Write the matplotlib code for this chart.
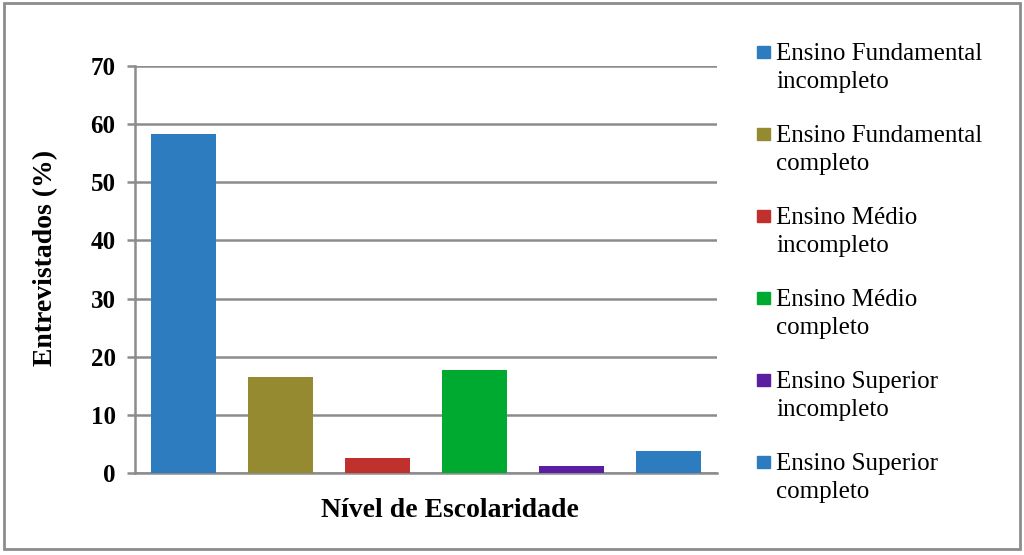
import matplotlib.pyplot as plt
from matplotlib.patches import Rectangle

# data
categories = ["Ensino Fundamental\nincompleto", "Ensino Fundamental\ncompleto",
              "Ensino Médio\nincompleto", "Ensino Médio\ncompleto",
              "Ensino Superior\nincompleto", "Ensino Superior\ncompleto"]
values = [58.3, 16.5, 2.6, 17.7, 1.2, 3.8]
colors = ["#2E7CC0", "#958A30", "#C0302C", "#00AA30", "#5A1EA0", "#2E7CC0"]
yticks = [0, 10, 20, 30, 40, 50, 60, 70]

plt.rcParams["font.family"] = ["Liberation Serif", "DejaVu Serif"]
W, H = 1024, 555
fig = plt.figure(figsize=(W / 100, H / 100), dpi=100)

def fx(px):
    return px / W

def fy(py):
    return 1 - py / H

ax = fig.add_axes([fx(135), fy(473), fx(717) - fx(135), fy(66) - fy(473)])
x = range(len(values))
ax.bar(x, values, width=0.67, color=colors, zorder=3)
ax.set_xlim(-0.5, 5.5)
ax.set_ylim(0, 70)
ax.set_yticks(yticks)
ax.set_yticklabels([str(t) for t in yticks], fontsize=18, fontweight="bold")
ax.set_xticks([])
ax.grid(axis="y", color="#8C8C8C", linewidth=1.8, zorder=0)
for s in ["top", "right"]:
    ax.spines[s].set_visible(False)
for s in ["left", "bottom"]:
    ax.spines[s].set_color("#8C8C8C")
    ax.spines[s].set_linewidth(1.8)
ax.tick_params(axis="y", direction="out", length=6, width=1.8, color="#8C8C8C", pad=8)
ax.set_xlabel("Nível de Escolaridade", fontsize=20, fontweight="bold")
ax.set_ylabel("Entrevistados (%)", fontsize=20, fontweight="bold")
ax.xaxis.set_label_coords(0.541, -0.061)
ax.yaxis.set_label_coords(-0.132, 0.529)

# legend drawn by hand to keep the two-line layout
for i, (lab, c) in enumerate(zip(categories, colors)):
    first, second = lab.split("\n")
    base = 60 + 82 * i
    fig.patches.append(Rectangle((fx(757), fy(58 + 82 * i)), fx(770) - fx(757), fy(46) - fy(58),
                                 transform=fig.transFigure, color=c, figure=fig))
    fig.text(fx(776), fy(base), first, fontsize=18, va="baseline")
    fig.text(fx(776), fy(base + 28), second, fontsize=18, va="baseline")

# outer border
fig.patches.append(Rectangle((fx(4), fy(549)), fx(1020) - fx(4), fy(3) - fy(549),
                             transform=fig.transFigure, fill=False, edgecolor="#8C8C8C",
                             linewidth=2, figure=fig))

fig.savefig("out.png", dpi=100)
